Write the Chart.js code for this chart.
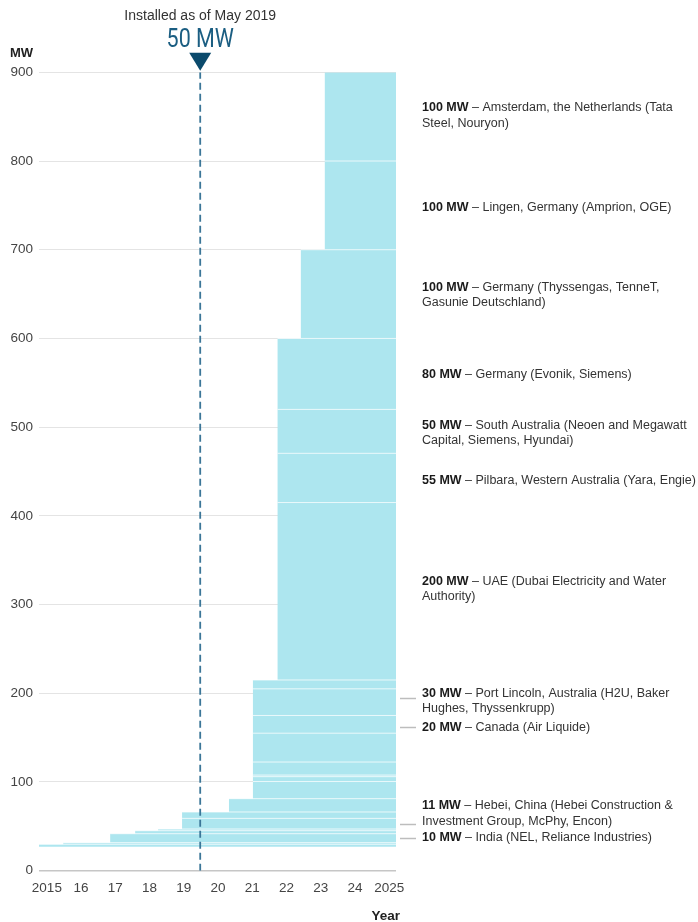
<!DOCTYPE html>
<html>
<head>
<meta charset="utf-8">
<title>Electrolyser capacity</title>
<script src="https://cdn.jsdelivr.net/npm/chart.js@4.4.1/dist/chart.umd.min.js"></script>
<style>
  html, body { margin: 0; padding: 0; background: #fff; }
  #wrap { position: relative; width: 698px; height: 922px; }
</style>
</head>
<body>
<div id="wrap"><canvas id="chart"></canvas></div>
<script>
'use strict';

// ── Data ───────────────────────────────────────────────────────────────────
const YEARS   = [2015, 2016, 2017, 2018, 2019, 2020, 2021, 2022, 2023, 2024, 2025];
const Y_TICKS = [0, 100, 200, 300, 400, 500, 600, 700, 800, 900];

// each project: year it comes online, cumulative MW on top of it
const projectStart = [2014.77, 2015.48, 2016.85, 2017.58, 2018.25, 2018.95, 2018.95, 2020.32,
                      2021.02, 2021.02, 2021.02, 2021.02, 2021.02, 2021.02, 2021.02, 2021.02,
                      2021.74, 2021.74, 2021.74, 2021.74, 2022.42, 2023.12, 2023.12];
const projectTop   = [29.8, 31.6, 41.7, 45.1, 47.0, 59.0, 66.2, 81.2,
                      100.5, 106.0, 107.8, 122.5, 155.0, 175.0, 205.0, 215.0,
                      415.0, 470.5, 520.0, 600.0, 700.0, 800.0, 900.0];
const BASE_MW = 27;

const X_MIN = 2014.77;
const X_MAX = 2025.2;

const INSTALLED_AT    = 2019.48;
const INSTALLED_LABEL = 'Installed as of May 2019';
const INSTALLED_VALUE = '50 MW';

// right-hand notes
const noteMW = ['100 MW', '100 MW', '100 MW', '80 MW', '50 MW', '55 MW', '200 MW',
                '30 MW', '20 MW', '11 MW', '10 MW'];
const noteText = [
  ['– Amsterdam, the Netherlands (Tata', 'Steel, Nouryon)'],
  ['– Lingen, Germany (Amprion, OGE)'],
  ['– Germany (Thyssengas, TenneT,', 'Gasunie Deutschland)'],
  ['– Germany (Evonik, Siemens)'],
  ['– South Australia (Neoen and Megawatt', 'Capital, Siemens, Hyundai)'],
  ['– Pilbara, Western Australia (Yara, Engie)'],
  ['– UAE (Dubai Electricity and Water', 'Authority)'],
  ['– Port Lincoln, Australia (H2U, Baker', 'Hughes, Thyssenkrupp)'],
  ['– Canada (Air Liquide)'],
  ['– Hebei, China (Hebei Construction &', 'Investment Group, McPhy, Encon)'],
  ['– India (NEL, Reliance Industries)'],
];
const noteAt   = [860.9, 748.7, 658.8, 561.0, 503.5, 441.5, 327.6, 201.4, 162.6, 74.1, 38.0];
const leaderAt = [null, null, null, null, null, null, null, 195.2, 162.3, 52.6, 36.8];

// ── Helpers ────────────────────────────────────────────────────────────────
const FONT = '"Liberation Sans", Arial, sans-serif';
const NOTE_LINE_H = 15.6;

function buildEnvelope() {
  const starts = [...new Set(projectStart)];
  const pts = starts.map(yr => ({
    x: yr,
    y: Math.max(...projectTop.filter((t, i) => projectStart[i] <= yr))
  }));
  pts.push({ x: X_MAX, y: pts[pts.length - 1].y });
  return pts;
}

function buildSeparators() {
  const pts = [];
  projectTop.slice(0, -1).forEach((t, i) => {
    pts.push({ x: projectStart[i], y: t }, { x: X_MAX, y: t }, { x: X_MAX, y: null });
  });
  return pts;
}

// ── Overlay: marker, notes, axis titles ───────────────────────────────────
const overlay = {
  id: 'overlay',
  afterDraw(chart) {
    const { ctx, chartArea, scales: { x, y } } = chart;
    ctx.save();

    // installed marker
    const mx = x.getPixelForValue(INSTALLED_AT);
    ctx.textAlign = 'center';
    ctx.textBaseline = 'alphabetic';
    ctx.fillStyle = '#333';
    ctx.font = '14px ' + FONT;
    ctx.fillText(INSTALLED_LABEL, mx, 20);

    ctx.save();
    ctx.translate(mx, 46.5);
    ctx.scale(0.86, 1);
    ctx.font = '25px Roboto, sans-serif';
    ctx.fillStyle = '#1b5e82';
    ctx.fillText(INSTALLED_VALUE, 0, 0);
    ctx.restore();

    ctx.beginPath();
    ctx.moveTo(mx - 11, chartArea.top - 19.5);
    ctx.lineTo(mx + 11, chartArea.top - 19.5);
    ctx.lineTo(mx, chartArea.top - 1.5);
    ctx.closePath();
    ctx.fillStyle = '#0b4a6c';
    ctx.fill();

    // axis titles
    ctx.fillStyle = '#222';
    ctx.font = 'bold 13px ' + FONT;
    ctx.textAlign = 'left';
    ctx.fillText('MW', 10, 57);
    ctx.textAlign = 'right';
    ctx.font = 'bold 13.5px ' + FONT;
    ctx.fillText('Year', chartArea.right + 4, 920);

    // notes
    ctx.textAlign = 'left';
    const left = chartArea.right + 26;
    noteMW.forEach((mw, i) => {
      const cy = y.getPixelForValue(noteAt[i]);
      noteText[i].forEach((line, j) => {
        const base = cy + j * NOTE_LINE_H + 4.5;
        let tx = left;
        if (j === 0) {
          ctx.font = 'bold 12.5px ' + FONT;
          ctx.fillStyle = '#1a1a1a';
          ctx.fillText(mw, tx, base);
          tx += ctx.measureText(mw).width;
          line = ' ' + line;
        }
        ctx.font = '12.5px ' + FONT;
        ctx.fillStyle = '#333';
        ctx.fillText(line, tx, base);
      });
      if (leaderAt[i] != null) {
        const ly = Math.round(y.getPixelForValue(leaderAt[i])) + 0.5;
        ctx.beginPath();
        ctx.moveTo(chartArea.right + 4, ly);
        ctx.lineTo(chartArea.right + 20, ly);
        ctx.strokeStyle = '#bdbdbd';
        ctx.lineWidth = 1.5;
        ctx.stroke();
      }
    });

    ctx.restore();
  }
};

// ── Chart ─────────────────────────────────────────────────────────────────
Chart.defaults.font.family = FONT;

new Chart(document.getElementById('chart'), {
  type: 'line',
  data: {
    datasets: [
      {
        label: 'Installed',
        data: [{ x: INSTALLED_AT, y: 0 }, { x: INSTALLED_AT, y: 900 }],
        borderColor: '#3b7698',
        borderWidth: 1.8,
        borderDash: [7, 4],
        pointRadius: 0,
        fill: false
      },
      {
        label: 'Separators',
        data: buildSeparators(),
        borderColor: 'rgba(255,255,255,0.75)',
        borderWidth: 1,
        pointRadius: 0,
        spanGaps: false,
        fill: false
      },
      {
        label: 'Capacity',
        data: buildEnvelope(),
        stepped: true,
        borderColor: 'rgba(0,0,0,0)',
        borderWidth: 0,
        backgroundColor: '#ade6ef',
        pointRadius: 0,
        fill: { value: BASE_MW }
      }
    ]
  },
  options: {
    responsive: true,
    maintainAspectRatio: false,
    animation: false,
    events: [],
    layout: { padding: { top: 72.3, right: 302, bottom: 0, left: 0 } },
    plugins: {
      legend: { display: false },
      tooltip: { enabled: false }
    },
    scales: {
      x: {
        type: 'linear',
        min: X_MIN,
        max: X_MAX,
        afterBuildTicks: scale => { scale.ticks = YEARS.map(v => ({ value: v })); },
        afterFit: scale => { scale.height = 51.3; },
        grid: { display: false, drawTicks: false },
        border: { display: false },
        ticks: {
          padding: 9,
          color: '#444',
          font: { size: 13.5 },
          maxRotation: 0,
          autoSkip: false,
          callback: v => (v === 2015 || v === 2025) ? String(v) : String(v).slice(2)
        }
      },
      y: {
        min: 0,
        max: 900,
        afterBuildTicks: scale => { scale.ticks = Y_TICKS.map(v => ({ value: v })); },
        afterFit: scale => { scale.width = 39; },
        border: { display: false },
        grid: {
          drawTicks: false,
          color: c => c.tick && c.tick.value === 0 ? '#c6c6c6' : '#e4e4e4',
          lineWidth: c => c.tick && c.tick.value === 0 ? 1.6 : 1
        },
        ticks: {
          padding: 6,
          color: '#444',
          font: { size: 13.5 }
        }
      }
    }
  },
  plugins: [overlay]
});
</script>
</body>
</html>
